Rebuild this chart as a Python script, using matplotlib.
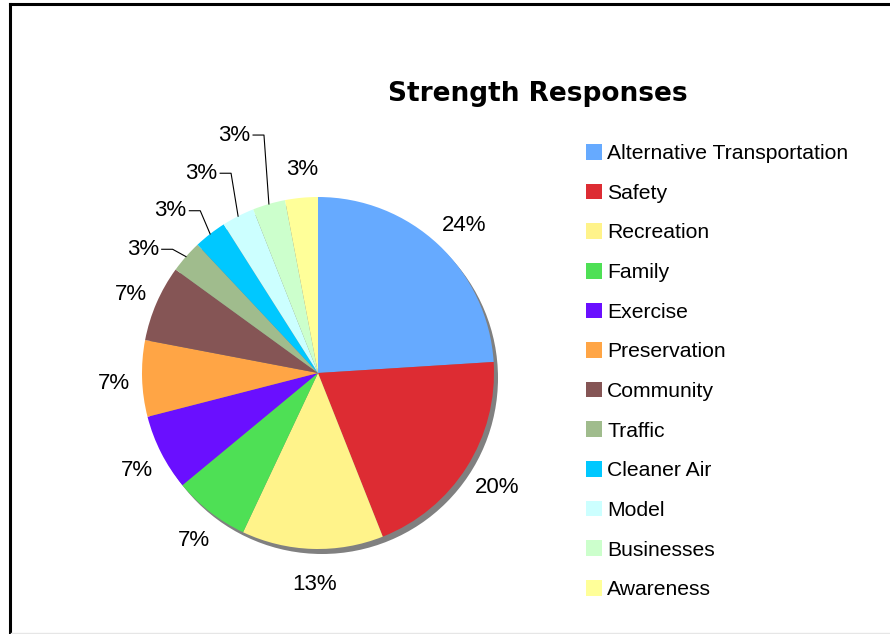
import numpy as np
import matplotlib.pyplot as plt
from matplotlib.patches import Circle
from matplotlib.lines import Line2D

plt.rcParams["font.family"] = ["Liberation Sans", "DejaVu Sans"]

categories = [
    "Alternative Transportation", "Safety", "Recreation", "Family",
    "Exercise", "Preservation", "Community", "Traffic", "Cleaner Air",
    "Model", "Businesses", "Awareness",
]
shares = [24, 20, 13, 7, 7, 7, 7, 3, 3, 3, 3, 3]
colors = [
    "#66aaff", "#dd2c33", "#fff38a", "#4ee055", "#6a0fff", "#ffa545",
    "#855555", "#a0bc8d", "#00c8ff", "#ccffff", "#ccffcc", "#ffff99",
]

# elbow points (in pie-radius units) for the stacked small-slice labels
leader_elbows = {
    "Traffic": (-0.826, 0.703),
    "Cleaner Air": (-0.669, 0.922),
    "Model": (-0.494, 1.135),
    "Businesses": (-0.307, 1.352),
}

W, H = 890, 634
fig = plt.figure(figsize=(W / 100, H / 100), dpi=100)

# pie axes: centre at (318, 373) px, radius 176 px
R_PX = 176
lim = 1.4
size = 2 * lim * R_PX
cx, cy = 318, H - 373
ax = fig.add_axes([(cx - size / 2) / W, (cy - size / 2) / H, size / W, size / H])

shadow = Circle((4 / R_PX, -5 / R_PX), 1.0, color="#808080", zorder=0, lw=0)
ax.add_patch(shadow)

wedges, _ = ax.pie(shares, colors=colors, startangle=90, counterclock=False,
                   radius=1.0, wedgeprops=dict(linewidth=0, zorder=1))
ax.set_xlim(-lim, lim)
ax.set_ylim(-lim, lim)
ax.set_aspect("equal")
ax.axis("off")

for w, name, val in zip(wedges, categories, shares):
    mid = np.deg2rad((w.theta1 + w.theta2) / 2)
    ex, ey = np.cos(mid), np.sin(mid)
    label = f"{val}%"
    if name in leader_elbows:
        bx, by = leader_elbows[name]
        hx = bx - 0.062
        ax.add_line(Line2D([hx, bx, ex], [by, by, ey], color="black", lw=0.8))
        ax.text(hx - 0.015, by, label, ha="right", va="center", fontsize=16)
    else:
        d = 1.18
        ax.text(d * ex + 0.02, d * ey - 0.02, label, ha="center", va="center",
                fontsize=16)

fig.text(0.604, 0.851, "Strength Responses", family="DejaVu Sans",
         fontweight="bold", fontsize=19, ha="center", va="center")

fig.legend(wedges, categories, loc="upper left",
           bbox_to_anchor=(586 / W, 1 - 144 / H), frameon=False,
           fontsize=15.2, borderpad=0, borderaxespad=0,
           handlelength=0.76, handleheight=0.76, handletextpad=0.25,
           labelspacing=0.97)

# outer frame
fig.add_artist(Line2D([9.5 / W, 1], [1 - 3.5 / H, 1 - 3.5 / H], color="black", lw=2.2))
fig.add_artist(Line2D([9.5 / W, 9.5 / W], [0, 1 - 3.5 / H], color="black", lw=2.2))
fig.add_artist(Line2D([11 / W, 1], [1.5 / H, 1.5 / H], color="#e6e6e6", lw=1))

fig.savefig("out.png", dpi=100)
